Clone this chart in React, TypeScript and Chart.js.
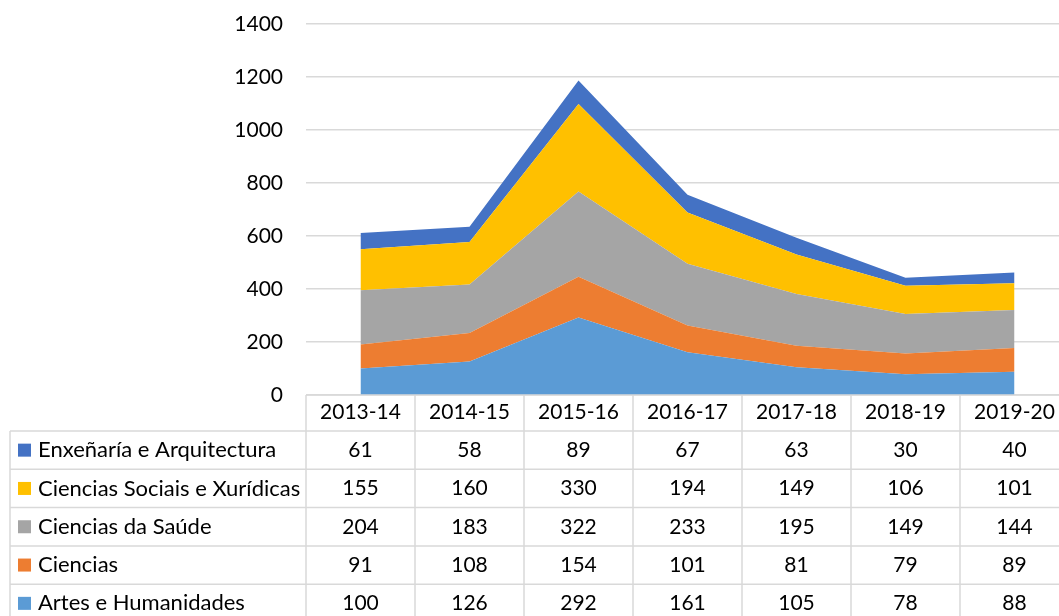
import React, { useEffect, useRef } from 'react';
import { Chart, registerables } from 'chart.js';

Chart.register(...registerables);

const categories = ['2013-14', '2014-15', '2015-16', '2016-17', '2017-18', '2018-19', '2019-20'];
const artes = [100, 126, 292, 161, 105, 78, 88];
const ciencias = [91, 108, 154, 101, 81, 79, 89];
const saude = [204, 183, 322, 233, 195, 149, 144];
const sociais = [155, 160, 330, 194, 149, 106, 101];
const enxenaria = [61, 58, 89, 67, 63, 30, 40];
const yMin = 0;
const yMax = 1400;
const yStep = 200;

const FONT = 'Lato, "Open Sans", sans-serif';
const GRID = '#D9D9D9';

const tablePlugin = {
  id: 'dataTable',
  afterDraw(chart: any) {
    const { ctx, chartArea, scales } = chart;
    const xs = scales.x;
    const n = categories.length;
    const left = chartArea.left;
    const right = chartArea.right;
    const colW = (right - left) / n;
    const top = chartArea.bottom;
    const headerH = 36;
    const rowH = 38.3;
    const tableLeft = 10;
    const bottom = chart.height;
    ctx.save();
    ctx.strokeStyle = GRID;
    ctx.lineWidth = 1.5;
    ctx.beginPath();
    for (let i = 0; i <= n; i++) {
      const xx = left + i * colW;
      ctx.moveTo(xx, top);
      ctx.lineTo(xx, bottom);
    }
    ctx.moveTo(tableLeft, top + headerH);
    ctx.lineTo(tableLeft, bottom);
    ctx.moveTo(left, top);
    ctx.lineTo(right, top);
    for (let k = 0; k <= 5; k++) {
      const y = top + headerH + k * rowH;
      ctx.moveTo(tableLeft, y);
      ctx.lineTo(right, y);
    }
    ctx.stroke();

    const ds = chart.data.datasets.slice().reverse();
    ctx.textBaseline = 'middle';
    ds.forEach((d: any, r: number) => {
      const cy = top + headerH + r * rowH + rowH / 2;
      ctx.fillStyle = d.backgroundColor;
      ctx.fillRect(18, cy - 6.5, 13, 13);
      ctx.fillStyle = '#000';
      ctx.textAlign = 'left';
      ctx.font = `22px ${FONT}`;
      ctx.fillText(d.label, 38, cy);
      ctx.textAlign = 'center';
      ctx.font = `21px ${FONT}`;
      d.data.forEach((v: number, j: number) => {
        ctx.fillText(String(v), xs.getPixelForValue(j), cy);
      });
    });
    ctx.restore();
  },
};

export default function App() {
  const ref = useRef<HTMLCanvasElement>(null);
  useEffect(() => {
    if (!ref.current) return;
    const mk = (label: string, data: number[], color: string, fill: any) => ({
      label,
      data,
      backgroundColor: color,
      borderColor: 'rgba(0,0,0,0)',
      borderWidth: 0,
      pointRadius: 0,
      pointHoverRadius: 0,
      tension: 0,
      fill,
    });
    const chart = new Chart(ref.current, {
      type: 'line',
      data: {
        labels: categories,
        datasets: [
          mk('Artes e Humanidades', artes, '#5B9BD5', 'origin'),
          mk('Ciencias', ciencias, '#ED7D31', '-1'),
          mk('Ciencias da Saúde', saude, '#A5A5A5', '-1'),
          mk('Ciencias Sociais e Xurídicas', sociais, '#FFC000', '-1'),
          mk('Enxeñaría e Arquitectura', enxenaria, '#4472C4', '-1'),
        ],
      },
      options: {
        responsive: false,
        animation: false,
        layout: { padding: { top: 24, left: 0, right: 0, bottom: 0 } },
        plugins: {
          legend: { display: false },
          tooltip: { enabled: false },
          filler: { propagate: false },
        },
        scales: {
          x: {
            offset: true,
            grid: { display: false, drawTicks: false },
            border: { display: false },
            ticks: {
              color: '#000',
              font: { family: FONT, size: 21 },
              padding: 5,
              maxRotation: 0,
              autoSkip: false,
            },
            afterFit: (s: any) => {
              s.height = 221;
            },
          },
          y: {
            stacked: true,
            min: yMin,
            max: yMax,
            grid: { color: GRID, lineWidth: 1.5, drawTicks: false },
            border: { display: false },
            ticks: {
              stepSize: yStep,
              color: '#000',
              font: { family: FONT, size: 21 },
              padding: 23,
              callback: (v: any) => String(v),
            },
            afterFit: (s: any) => {
              s.width = 306;
              s.paddingTop = 0;
              s.paddingBottom = 0;
            },
          },
        },
      },
      plugins: [tablePlugin],
    });
    return () => chart.destroy();
  }, []);
  return (
    <div
      style={{
        position: 'fixed',
        left: 0,
        top: 0,
        width: 1059,
        height: 616,
        overflow: 'hidden',
        background: '#fff',
      }}
    >
      <canvas ref={ref} width={1069} height={616} style={{ display: 'block' }} />
    </div>
  );
}
